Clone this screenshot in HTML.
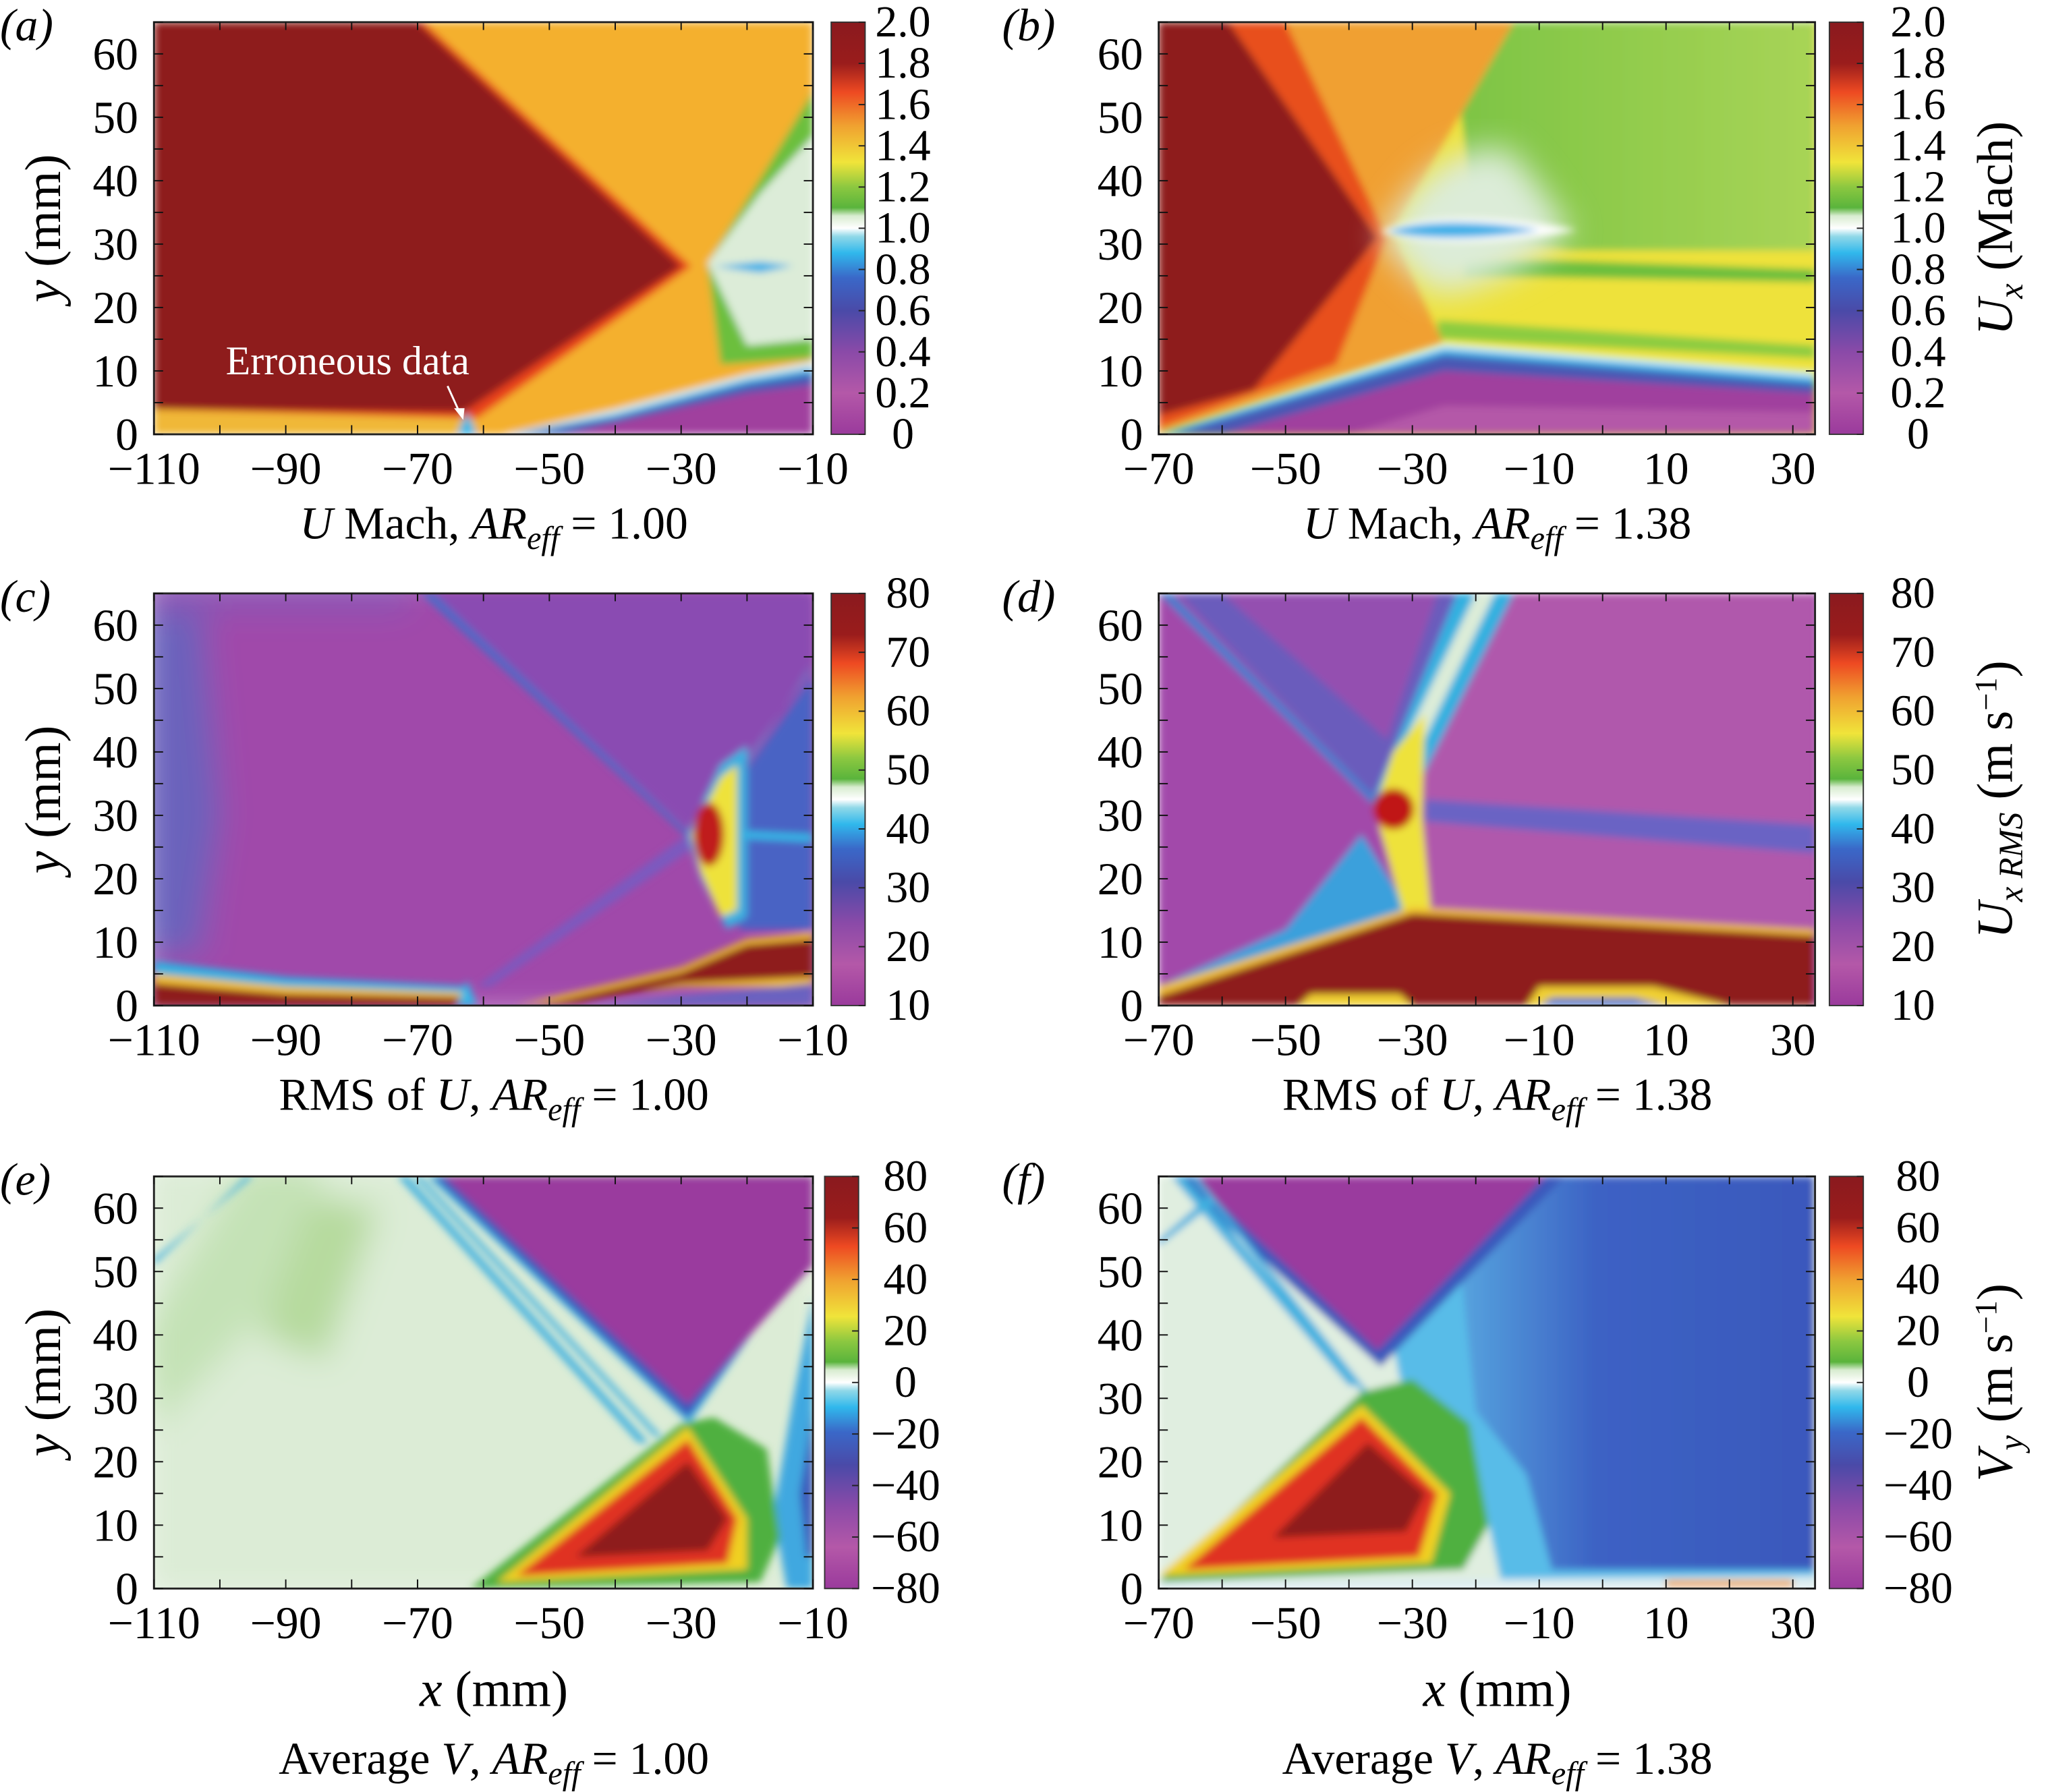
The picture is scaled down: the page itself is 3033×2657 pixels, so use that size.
<!DOCTYPE html>
<html><head><meta charset="utf-8"><style>
html,body{margin:0;padding:0;background:#fff;}
svg{display:block;}
text{font-family:"Liberation Serif",serif;fill:#000;}
</style></head><body>
<svg id="fig" xmlns="http://www.w3.org/2000/svg" width="3033" height="2657" viewBox="0 0 1568 1374" preserveAspectRatio="none">
<defs>
<linearGradient id="cmap" x1="0" y1="1" x2="0" y2="0">
<stop offset="0" stop-color="#9a3a9c"/><stop offset="0.1" stop-color="#b458a8"/><stop offset="0.2" stop-color="#8a4aa8"/>
<stop offset="0.3" stop-color="#4a4aa8"/><stop offset="0.38" stop-color="#3a68c8"/><stop offset="0.44" stop-color="#30b8ec"/>
<stop offset="0.48" stop-color="#90d8e8"/><stop offset="0.5" stop-color="#ffffff"/><stop offset="0.53" stop-color="#d8ecd0"/>
<stop offset="0.55" stop-color="#5ab43c"/><stop offset="0.6" stop-color="#8cc840"/><stop offset="0.66" stop-color="#f0e43a"/>
<stop offset="0.75" stop-color="#f0a030"/><stop offset="0.83" stop-color="#ee4a22"/><stop offset="0.9" stop-color="#9a1c1c"/>
<stop offset="1" stop-color="#8a1a1e"/>
</linearGradient>
<filter id="bl" x="-5%" y="-5%" width="110%" height="110%"><feGaussianBlur stdDeviation="0.6"/></filter>
<filter id="bl2" x="-20%" y="-20%" width="140%" height="140%"><feGaussianBlur stdDeviation="2.5"/></filter>
<linearGradient id="gb" x1="0" y1="0" x2="1" y2="0"><stop offset="0" stop-color="#7cc444"/><stop offset="1" stop-color="#a8d456"/></linearGradient>
<linearGradient id="fblue" x1="0" y1="0" x2="1" y2="0"><stop offset="0" stop-color="#58a8e0"/><stop offset="0.4" stop-color="#3c62c4"/><stop offset="1" stop-color="#3a58bc"/></linearGradient>
<clipPath id="clipA"><rect x="118" y="17" width="505" height="316"/></clipPath>
<clipPath id="clipB"><rect x="888" y="17" width="503" height="316"/></clipPath>
<clipPath id="clipC"><rect x="118" y="455" width="505" height="316"/></clipPath>
<clipPath id="clipD"><rect x="888" y="455" width="503" height="316"/></clipPath>
<clipPath id="clipE"><rect x="118" y="902" width="505" height="316"/></clipPath>
<clipPath id="clipF"><rect x="888" y="902" width="503" height="316"/></clipPath>
</defs>

<!-- Panel a field -->
<g clip-path="url(#clipA)">
<g id="fa" filter="url(#bl)">
<rect x="-110" y="0" width="100" height="65" fill="#f4b02e"/>
<polygon points="-24,11 -10,12 -10,54 -17,42 -26,27" fill="#6cbf3c"/>
<polygon points="-26,27 -18,38 -10,47 -10,15 -20,14" fill="#dcecd8"/>
<polygon points="-25,26.5 -18,27.2 -13,26.6 -18,25.5" fill="#30b0e8"/>
<polygon points="-110,65 -69,65 -28.5,26.5 -61,2.5 -110,4" fill="#e8401f"/>
<polygon points="-110,65 -70,65 -30,26.5 -63,3.5 -110,4" fill="#8e1b1c"/>
<polygon points="-57,0 -40,4 -20,9.5 -10,11.5 -10,0" fill="#d8f0f0"/>
<polygon points="-56,0 -40,3.2 -20,8.7 -10,10.5 -10,0" fill="#3aa8e0"/>
<polygon points="-54,0 -40,2.5 -20,7.8 -10,9.5 -10,0" fill="#4a58b4"/>
<polygon points="-48,0 -20,6.5 -10,7.8 -10,0" fill="#a0409e"/>
<polygon points="-110,0 -110,3.5 -61,2.5 -61,0" fill="#f0b838"/>
<polygon points="-64,0 -62.5,3.5 -61,0" fill="#30b8e8"/>
</g></g>

<!-- Panel b field -->
<g clip-path="url(#clipB)">
<g id="fb" filter="url(#bl)">
<rect x="-70" y="0" width="104" height="65" fill="#eee23a"/>
<polygon points="-24,65 33.5,65 33.5,29 -5,29 -20,31" fill="url(#gb)"/>
<polygon points="-22,28 33.5,26 33.5,24 -22,25" fill="#6cbf3c"/>
<polygon points="-26,18 33.5,14 33.5,12 -26,15" fill="#8ccc40"/>
<polygon points="-70,65 -14,65 -33,32 -25,14 -70,0" fill="#f0a030"/>
<polygon points="-70,65 -50,65 -34,31 -42,11 -70,1" fill="#e8501f"/>
<polygon points="-70,65 -59,65 -35.5,31 -55,7 -70,3" fill="#8e1b1c"/>
</g>
<g id="fb2" filter="url(#bl2)">
<path d="M-35,31 C-30,40 -24,46 -15,45 C-10,40 -8,36 -5,32 C-10,27 -18,23 -26,22 C-30,25 -33,28 -35,31 Z" fill="#dcecd8"/>
</g>
<g id="fb3" filter="url(#bl)">
<path d="M-35,32 C-28,35 -16,34.5 -4,32.2 C-16,30 -28,29.5 -35,32 Z" fill="#ffffff"/>
<path d="M-34,32 C-28,34 -18,33.6 -10,32.2 C-18,30.8 -28,30.5 -34,32 Z" fill="#3cb0e8"/>
<polygon points="-70,0 -25,14.5 33.5,10 33.5,0" fill="#d8f0f0"/>
<polygon points="-70,0 -25,13.5 33.5,9 33.5,0" fill="#30b0e8"/>
<polygon points="-68,0 -25,12.5 33.5,8 33.5,0" fill="#4a58b4"/>
<polygon points="-60,0 -25,10 33.5,6.5 33.5,0" fill="#a0409e"/>
<polygon points="-40,0 -25,4.5 33.5,3.5 33.5,0" fill="#b458a8"/>
</g></g>

<!-- Panel c field -->
<g clip-path="url(#clipC)">
<g id="fc0" filter="url(#bl2)">
<rect x="-112" y="-2" width="104" height="70" fill="#a04aaa"/>
<polygon points="-112,67 -103,67 -100,30 -103,8 -112,8" fill="#6a62bc"/>
<polygon points="-112,67 -70,67 -72,62 -112,62" fill="#8a54b4"/>
</g>
<g id="fc" filter="url(#bl)">
<polygon points="-69,65 -10,65 -10,52 -28,27" fill="#8a4cb2"/>
<polygon points="-69.5,65 -67.5,65 -28,26.5 -29,26.5" fill="#4a6ac8"/>
<polygon points="-11,52 -10,54 -27,27 -28,27" fill="#3a9ad8"/>
<polygon points="-29,27 -61,3 -59,3 -28,25" fill="#7a5ac0"/>
<polygon points="-27,27 -10,52 -10,12 -21,12" fill="#4a64c4"/>
<polygon points="-29,27 -24,38 -20,41 -20,14 -23,12 -27,20" fill="#3ab0e0"/>
<polygon points="-28.5,27 -24,36 -21.5,38 -21.5,15 -24,14 -27,21" fill="#eee23a"/>
<ellipse cx="-25.8" cy="27" rx="2.3" ry="5" fill="#c01a1a"/>
<polygon points="-20,27.5 -10,27 -10,25.8 -20,26.3" fill="#30b8e8"/>
<polygon points="-55,0 -30,6 -20,10.5 -10,11.5 -10,3 -30,3" fill="#f0c030"/>
<polygon points="-52,0 -30,5.2 -20,9.6 -10,10.5 -10,4.5 -30,3.5 -45,0.5" fill="#8e1b1c"/>
<polygon points="-45,0 -10,3.5 -10,0" fill="#6a62c0"/>
<polygon points="-110,7 -90,4.5 -62,3 -62,0 -110,0" fill="#30b0e0"/>
<polygon points="-110,5 -90,3 -62,2 -62,0 -110,0" fill="#f0c030"/>
<polygon points="-110,3.5 -90,1.8 -62,1.2 -62,0 -110,0" fill="#8e1b1c"/>
<polygon points="-64,0 -62.5,4 -61,0" fill="#30b8e8"/>
</g></g>

<!-- Panel d field -->
<g clip-path="url(#clipD)">
<g id="fd" filter="url(#bl)">
<rect x="-70" y="0" width="104" height="65" fill="#a24aaa"/>
<polygon points="-20,65 33.5,65 33.5,10 -28,13 -32,30" fill="#b058ac"/>
<polygon points="-67,65 -22,65 -35,32" fill="#6a5cbc"/>
<polygon points="-60,65 -26,65 -34,42" fill="#9450b0"/>
<polygon points="-70,65 -68,65 -34,31 -35.5,31" fill="#3a80d0"/>
<polygon points="-23,65 -14,65 -30,33 -36,33" fill="#30b0e0"/>
<polygon points="-20,65 -17,65 -31,36 -34,36" fill="#dcecd8"/>
<polygon points="-28,32.5 33.5,28.5 33.5,24 -28,29" fill="#6a64c4"/>
<polygon points="-70,3 -50,12 -38,27 -30,14 -45,10" fill="#3aa0dc"/>
<polygon points="-36,31 -33,40 -28,46 -28.5,30 -27,14 -31,13 -34,24" fill="#eee23a"/>
<ellipse cx="-33" cy="31" rx="3.2" ry="3.2" fill="#c01818"/>
<polygon points="-70,0 -70,3 -30,15.5 33.5,12 33.5,0" fill="#f0c030"/>
<polygon points="-70,0 -70,1.5 -30,14.5 33.5,11 33.5,0" fill="#8e1b1c"/>
<polygon points="-48,0 -46,1.8 -32,1.8 -30,0" fill="#f0d030"/>
<polygon points="-12,0 -10,3 8,3 20,0" fill="#f0d030"/>
<polygon points="-10,0 -8,1.2 5,1.2 10,0" fill="#3a70d0"/>
</g></g>

<!-- Panel e field -->
<g clip-path="url(#clipE)">
<g id="fe0" filter="url(#bl2)">
<rect x="-112" y="-2" width="104" height="70" fill="#dcecd6"/>
<polygon points="-96,67 -84,67 -92,45 -110,25 -112,40" fill="#c4e2b6"/>
<polygon points="-86,62 -76,60 -84,36 -94,40" fill="#b6da9e"/>
</g>
<g id="fe" filter="url(#bl)">
<polygon points="-96,65 -95,65 -110,52 -110,51" fill="#40b0e0"/>
<polygon points="-73,65 -71.5,65 -35,23 -36.5,23" fill="#40b0e0"/>
<polygon points="-70.5,65 -69.5,65 -33,24 -34,24" fill="#40b0e0"/>
<polygon points="-68.5,65 -10,65 -10,54 -28.8,26" fill="#3aa8e0"/>
<polygon points="-67.5,65 -10,65 -10,53 -29,27" fill="#3a58bc"/>
<polygon points="-66,65 -10,65 -10,51 -29,29" fill="#9a3a9e"/>
<polygon points="-10,46 -13,30 -16,12 -14,0 -10,0" fill="#40a8e0"/>
<polygon points="-10,28 -12,15 -11,5 -10,5" fill="#3a58bc"/>
<polygon points="-62,0 -30,26 -25,27 -17,22 -15,8 -18,1" fill="#50b040"/>
<polygon points="-58,1 -29,25.5 -20,11 -20,3" fill="#f0d020"/>
<polygon points="-55,2 -29,23.5 -21.5,11 -23,4" fill="#e03020"/>
<polygon points="-46,5 -29,20 -23,11 -26,6" fill="#8e1b1c"/>
</g></g>

<!-- Panel f field -->
<g clip-path="url(#clipF)">
<g id="ff" filter="url(#bl)">
<rect x="-70" y="0" width="104" height="65" fill="#e0eee0"/>
<polygon points="-38,65 33.5,65 33.5,1 -16,1 -21,24 -32,33" fill="#58bce8"/>
<polygon points="-24,65 33.5,65 33.5,3 -8,3 -12,18 -20,28" fill="url(#fblue)"/>
<polygon points="-68,65 -6,65 -35,35" fill="#3a58bc"/>
<polygon points="-65,65 -9,65 -35.5,37.5" fill="#9a3a9e"/>
<polygon points="-68,65 -66,65 -38,32 -40,32" fill="#40b0e0"/>
<polygon points="-65,65 -64,65 -37,31 -38,31" fill="#40b0e0"/>
<polygon points="-62,62 -61,61 -70,54 -70,55" fill="#40b0e0"/>
<polygon points="-70,1 -38,31 -30,33 -21,26 -18,10 -22,3" fill="#50b040"/>
<polygon points="-70,2 -38,29 -24,15 -27,4" fill="#f0d020"/>
<polygon points="-66,3 -38,27 -26,15 -29,5" fill="#e03020"/>
<polygon points="-52,8 -37,23 -28,15 -31,9" fill="#8e1b1c"/>
<polygon points="-70,0 33.5,0 33.5,2 -70,1" fill="#dcecf0"/>
<polygon points="10,0.3 30,0.3 30,1.3 10,1.3" fill="#f0a030"/>
</g></g>

<g id="axes"></g>

<!-- annotation -->
<text x="173" y="287" font-size="31" style="fill:#fff">Erroneous data</text>
<line x1="343" y1="296" x2="353" y2="318" stroke="#fff" stroke-width="1.5"/>
<polygon points="355,322 348,313 356,313" fill="#fff"/>
</svg>

<script>
const xTicksA = [-110, -90, -70, -50, -30, -10];
const xTicksB = [-70, -50, -30, -10, 10, 30];
const yTicks = [0, 10, 20, 30, 40, 50, 60];
const cbMach = ['2.0','1.8','1.6','1.4','1.2','1.0','0.8','0.6','0.4','0.2','0'];
const cbRms = ['80','70','60','50','40','30','20','10'];
const cbV = ['80','60','40','20','0','−20','−40','−60','−80'];
const captions = ['U Mach', 'U Mach', 'RMS of U', 'RMS of U', 'Average V', 'Average V'];
const arValues = ['1.00', '1.38', '1.00', '1.38', '1.00', '1.38'];

const NS = 'http://www.w3.org/2000/svg';
const axes = document.getElementById('axes');
function mk(tag, attrs, parent) {
  const e = document.createElementNS(NS, tag);
  for (const k in attrs) e.setAttribute(k, attrs[k]);
  (parent || axes).appendChild(e);
  return e;
}
const panels = [
  {id:'a', fids:['fa'], x0:118, y0:17, w:505, xmin:-110, xmax:-10, xt:xTicksA, cbx:637, cbw:26, cbl:cbMach, lcx:692},
  {id:'b', fids:['fb','fb2','fb3'], x0:888, y0:17, w:503, xmin:-70, xmax:33.5, xt:xTicksB, cbx:1402, cbw:26, cbl:cbMach, lcx:1470},
  {id:'c', fids:['fc0','fc'], x0:118, y0:455, w:505, xmin:-110, xmax:-10, xt:xTicksA, cbx:637, cbw:26, cbl:cbRms, lcx:696},
  {id:'d', fids:['fd'], x0:888, y0:455, w:503, xmin:-70, xmax:33.5, xt:xTicksB, cbx:1402, cbw:26, cbl:cbRms, lcx:1466},
  {id:'e', fids:['fe0','fe'], x0:118, y0:902, w:505, xmin:-110, xmax:-10, xt:xTicksA, cbx:632, cbw:26, cbl:cbV, lcx:694},
  {id:'f', fids:['ff'], x0:888, y0:902, w:503, xmin:-70, xmax:33.5, xt:xTicksB, cbx:1402, cbw:26, cbl:cbV, lcx:1470}
];
const H = 316, YMAX = 65;
panels.forEach((p, i) => {
  const sx = p.w / (p.xmax - p.xmin), sy = H / YMAX;
  const X = v => p.x0 + (v - p.xmin) * sx;
  const Y = v => p.y0 + (YMAX - v) * sy;
  p.fids.forEach(fid => document.getElementById(fid).setAttribute('transform',
    `translate(${p.x0 - sx * p.xmin},${p.y0 + sy * YMAX}) scale(${sx},${-sy})`));
  const fr = mk('rect', {x:p.x0, y:p.y0, width:p.w, height:H, fill:'none', stroke:'#222', 'stroke-width':1.5});
  
  
  for (let v = Math.ceil(p.xmin / 10) * 10; v <= p.xmax; v += 10) {
    const t = mk('line', {x1:X(v), x2:X(v), y1:p.y0 + H, y2:p.y0 + H - 7, stroke:'#111', 'stroke-width':1});
    
    
    const t2 = mk('line', {x1:X(v), x2:X(v), y1:p.y0, y2:p.y0 + 6, stroke:'#111', 'stroke-width':1});
    
    
  }
  for (let v = 0; v <= 65; v += 5) {
    const t = mk('line', {x1:p.x0, x2:p.x0 + 7, y1:Y(v), y2:Y(v), stroke:'#111', 'stroke-width':1});
    
    
    const t2 = mk('line', {x1:p.x0 + p.w, x2:p.x0 + p.w - 7, y1:Y(v), y2:Y(v), stroke:'#111', 'stroke-width':1});
    
    
  }
  p.xt.forEach(v => {
    const t = mk('text', {x:X(v), y:p.y0 + H + 38, 'font-size':35, 'text-anchor':'middle'});
    t.textContent = v < 0 ? '−' + Math.abs(v) : String(v);
    
    
  });
  yTicks.forEach(v => {
    const t = mk('text', {x:p.x0 - 12, y:Y(v) + 12, 'font-size':35, 'text-anchor':'end'});
    t.textContent = String(v);
    
    
  });
  const pl = mk('text', {x:(i % 2 ? 768 : 0), y:p.y0 + 14, 'font-size':35, 'font-style':'italic'});
  pl.textContent = '(' + p.id + ')';
  
  
  if (i % 2 === 0) {
    const yt = mk('text', {x:0, y:0, 'font-size':39, 'text-anchor':'middle', transform:`translate(46,${p.y0 + H / 2}) rotate(-90)`});
    yt.innerHTML = '<tspan font-style="italic">y</tspan> (mm)';
    
    
  }
  const cb = mk('rect', {x:p.cbx, y:p.y0, width:p.cbw, height:H, fill:'url(#cmap)', stroke:'#333', 'stroke-width':1});
  
  
  const n = p.cbl.length;
  p.cbl.forEach((lab, k) => {
    const yy = p.y0 + k * H / (n - 1);
    const tk = mk('line', {x1:p.cbx + p.cbw - 5, x2:p.cbx + p.cbw, y1:yy, y2:yy, stroke:'#222', 'stroke-width':1});
    
    
    const t = mk('text', {x:p.lcx, y:yy + 11, 'font-size':34, 'text-anchor':'middle'});
    t.textContent = lab;
    
    
  });
  const cx = p.x0 + p.w / 2 + 8;
  const capY = (p.id === 'e' || p.id === 'f') ? 1360 : p.y0 + H + 80;
  const cap = mk('text', {x:cx, y:capY, 'font-size':35, 'text-anchor':'middle'});
  const parts = captions[i].split(' ');
  const last = parts.pop();
  const prefix = parts.join(' ');
  let html;
  if (captions[i] === 'U Mach') html = '<tspan font-style="italic">U</tspan> Mach, ';
  else html = prefix + ' <tspan font-style="italic">' + last + '</tspan>, ';
  html += '<tspan font-style="italic">AR</tspan><tspan font-style="italic" font-size="25" dy="8">eff</tspan><tspan dy="-8"> = ' + arValues[i] + '</tspan>';
  cap.innerHTML = html;
  
  
  if (p.id === 'e' || p.id === 'f') {
    const xt = mk('text', {x:cx, y:1308, 'font-size':39, 'text-anchor':'middle'});
    xt.innerHTML = '<tspan font-style="italic">x</tspan> (mm)';
    
    
  }
});
function cbTitle(cy, html, name) {
  const t = mk('text', {x:0, y:0, 'font-size':39, 'text-anchor':'middle', transform:`translate(1542,${cy}) rotate(-90)`});
  t.innerHTML = html;
  
  
}
cbTitle(175, '<tspan font-style="italic">U</tspan><tspan font-style="italic" font-size="26" dy="8">x</tspan><tspan dy="-8"> (Mach)</tspan>', 'colorbar-title-mach');
cbTitle(613, '<tspan font-style="italic">U</tspan><tspan font-style="italic" font-size="26" dy="8">x RMS</tspan><tspan dy="-8"> (m s</tspan><tspan font-size="24" dy="-12">−1</tspan><tspan dy="12">)</tspan>', 'colorbar-title-rms');
cbTitle(1060, '<tspan font-style="italic">V</tspan><tspan font-style="italic" font-size="26" dy="8">y</tspan><tspan dy="-8"> (m s</tspan><tspan font-size="24" dy="-12">−1</tspan><tspan dy="12">)</tspan>', 'colorbar-title-vy');
</script>
</body></html>
